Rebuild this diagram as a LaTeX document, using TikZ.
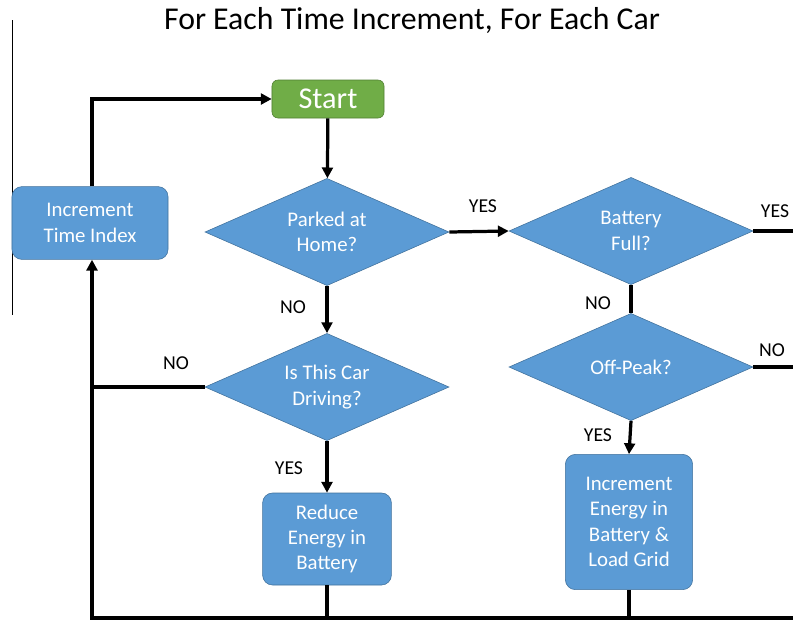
\documentclass[tikz,border=0pt]{standalone}
\usepackage{fontspec}
\setmainfont{Carlito}
\usepackage{tikz}
\usetikzlibrary{shapes.geometric, arrows.meta}

\definecolor{boxblue}{HTML}{5B9BD5}
\definecolor{boxedge}{HTML}{41719C}
\definecolor{startgreen}{HTML}{70AD47}
\definecolor{startedge}{HTML}{507E32}

\begin{document}
\begin{tikzpicture}[x=0.025cm, y=-0.025cm,
    box/.style={rectangle, rounded corners=0.25cm, draw=boxedge, fill=boxblue, text=white, align=center,
        font=\fontsize{14.8}{18}\selectfont, inner sep=0},
    decision/.style={diamond, aspect=2.25, draw=boxedge, fill=boxblue, text=white, align=center,
        font=\fontsize{14.8}{18}\selectfont, inner sep=0, minimum width=6.1cm, minimum height=2.68cm},
    lbl/.style={font=\fontsize{14}{16}\selectfont},
    flow/.style={line width=2.3pt},
    arr/.style={flow, -{Triangle[length=0.27cm, width=0.27cm]}}]

    \useasboundingbox (0, 0) rectangle (793, 621);

    \node[font=\fontsize{22.6}{26}\selectfont] at (412, 20) (title) {For Each Time Increment, For Each Car};
    \draw[thin] (12, 20) -- (12, 315);

    \node[rectangle, rounded corners=0.15cm, draw=startedge, fill=startgreen, text=white,
        font=\fontsize{21.5}{24}\selectfont, minimum width=2.8cm, minimum height=0.95cm] at (328, 99) (start) {Start};
    \node[decision] at (327, 232) (parked) {Parked at\\Home?};
    \node[decision] at (631, 231) (full) {Battery\\Full?};
    \node[decision] at (631, 367) (peak) {Off-Peak?};
    \node[decision] at (327, 387) (drive) {Is This Car\\Driving?};
    \node[box, minimum width=3.9cm, minimum height=1.82cm] at (90, 223) (inc) {Increment\\Time Index};
    \node[box, minimum width=3.22cm, minimum height=2.3cm] at (327, 539) (reduce) {Reduce\\Energy in\\Battery};
    \node[box, minimum width=3.18cm, minimum height=3.38cm] at (629, 522) (charge) {Increment\\Energy in\\Battery \&\\Load Grid};

    \coordinate (corner) at (92, 618);
    \coordinate (rightend) at (793, 618);
    \coordinate (fullout) at (793, 231);
    \coordinate (peakout) at (793, 367);

    \draw[arr] (start) -- (parked);
    \draw[arr] (parked.east) -- (full.west);
    \draw[arr] (parked.south) -- (drive.north);
    \draw[arr] (drive.south) -- (reduce.north);
    \draw[arr] (peak.south) -- (charge.north);
    \draw[flow] (full.south) -- (peak.north);
    \draw[flow] (full.east) -- (fullout);
    \draw[flow] (peak.east) -- (peakout);
    \draw[flow] (drive.west) -- (drive.west -| corner);
    \draw[flow] (reduce.south) -- (reduce.south |- corner);
    \draw[flow] (charge.south) -- (charge.south |- corner);
    \draw[arr] (rightend) -- (corner) -- (inc.south -| corner);
    \draw[arr] (inc.north -| corner) |- (start.west);

    \node[lbl] at (483, 206) (yes1) {YES};
    \node[lbl] at (775, 211) (yes2) {YES};
    \node[lbl] at (293, 307) (no1) {NO};
    \node[lbl] at (598, 303) (no2) {NO};
    \node[lbl] at (772, 350) (no3) {NO};
    \node[lbl] at (176, 363) (no4) {NO};
    \node[lbl] at (289, 468) (yes3) {YES};
    \node[lbl] at (598, 435) (yes4) {YES};
\end{tikzpicture}
\end{document}
